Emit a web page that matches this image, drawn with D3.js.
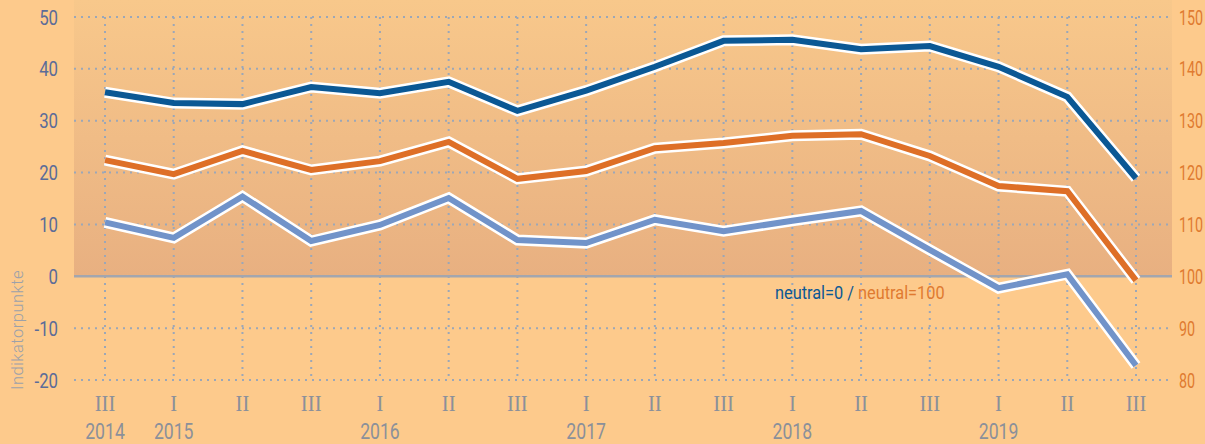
<!DOCTYPE html>
<html>
<head>
<meta charset="utf-8">
<script src="https://cdn.jsdelivr.net/npm/d3@7"></script>
<style>
  body { margin: 0; background: #fdca8c; }
  svg { display: block; }
</style>
</head>
<body>
<div id="chart"></div>
<script>
// data (Indikatorpunkte, tertials III/2014 .. III/2019)
const periods = ['III', 'I', 'II', 'III', 'I', 'II', 'III', 'I', 'II', 'III', 'I', 'II', 'III', 'I', 'II', 'III']
const yearLabels = ['2014', '2015', '', '', '2016', '', '', '2017', '', '', '2018', '', '', '2019', '', '']
const darkBlue = [35.5, 33.4, 33.2, 36.5, 35.3, 37.5, 31.9, 35.8, 40.4, 45.4, 45.6, 43.8, 44.4, 40.4, 34.6, 18.9]
const orange = [22.4, 19.7, 24.2, 20.5, 22.2, 25.9, 18.8, 20.3, 24.7, 25.7, 27.1, 27.4, 23.2, 17.4, 16.4, -0.8]
const lightBlue = [10.4, 7.4, 15.4, 6.8, 9.9, 15.1, 7.0, 6.4, 10.9, 8.7, 10.7, 12.6, 5.1, -2.3, 0.4, -17.2]
const leftTicks = [50, 40, 30, 20, 10, 0, -10, -20]

const width = 1205, height = 444
const plot = { left: 74, right: 1172 }
const narrowFont = 'Roboto, "Liberation Sans", sans-serif'
const squeeze = 0.8

const svg = d3.select('#chart').append('svg')
    .attr('width', width)
    .attr('height', height)

const x = d3.scaleLinear().domain([0, periods.length - 1]).range([105, 1136])
const y = d3.scaleLinear().domain([-20, 50]).range([380, 17])

// shaded positive area
const defs = svg.append('defs')
const grad = defs.append('linearGradient').attr('id', 'shade')
    .attr('x1', 0).attr('y1', 0).attr('x2', 0).attr('y2', 1)
grad.append('stop').attr('offset', '0%').attr('stop-color', '#f8c88b')
grad.append('stop').attr('offset', '100%').attr('stop-color', '#e8b081')

svg.append('rect')
    .attr('x', plot.left).attr('y', 0)
    .attr('width', plot.right - plot.left)
    .attr('height', y(0))
    .attr('fill', 'url(#shade)')

// grid
const grid = svg.append('g')
    .attr('stroke', '#9ba7b8')
    .attr('stroke-width', 2)
    .attr('stroke-dasharray', '2,5')

grid.selectAll('line.h')
    .data(leftTicks.filter(d => d !== 0))
    .join('line')
    .attr('x1', plot.left).attr('x2', plot.right - 3)
    .attr('y1', d => y(d)).attr('y2', d => y(d))

grid.selectAll('line.v')
    .data(periods.map((p, i) => i))
    .join('line')
    .attr('x1', d => x(d)).attr('x2', d => x(d))
    .attr('y1', y(50)).attr('y2', y(-20))

svg.append('line')
    .attr('x1', plot.left).attr('x2', plot.right)
    .attr('y1', y(0)).attr('y2', y(0))
    .attr('stroke', '#a3a6ae')
    .attr('stroke-width', 2.5)

// left axis labels
svg.append('g').selectAll('text')
    .data(leftTicks)
    .join('text')
    .attr('transform', d => `translate(58, ${y(d) + 7.5}) scale(${squeeze}, 1)`)
    .attr('text-anchor', 'end')
    .attr('font-family', narrowFont)
    .attr('font-size', 21)
    .attr('fill', '#5b6c99')
    .text(d => d)

// right axis labels (neutral = 100)
svg.append('g').selectAll('text')
    .data(leftTicks)
    .join('text')
    .attr('transform', d => `translate(1179, ${y(d) + 7.5}) scale(0.7, 1)`)
    .attr('font-family', narrowFont)
    .attr('font-size', 20.5)
    .attr('fill', '#e07a30')
    .text(d => d + 100)

svg.append('text')
    .attr('transform', `translate(23, 330) rotate(-90)`)
    .attr('text-anchor', 'middle')
    .attr('font-family', narrowFont)
    .attr('font-size', 16.5)
    .attr('font-weight', 300)
    .attr('letter-spacing', 0.5)
    .attr('fill', '#9ca1aa')
    .text('Indikatorpunkte')

// x labels
svg.append('g').selectAll('text')
    .data(periods)
    .join('text')
    .attr('transform', (d, i) => `translate(${x(i)}, 411) scale(0.9, 1)`)
    .attr('text-anchor', 'middle')
    .attr('font-family', '"Liberation Serif", serif')
    .attr('font-size', 23)
    .attr('fill', '#8b909a')
    .text(d => d)

svg.append('g').selectAll('text')
    .data(yearLabels)
    .join('text')
    .attr('transform', (d, i) => `translate(${x(i)}, 439) scale(${squeeze}, 1)`)
    .attr('text-anchor', 'middle')
    .attr('font-family', narrowFont)
    .attr('font-size', 22)
    .attr('fill', '#8b909a')
    .text(d => d)

// lines
const line = d3.line().x((d, i) => x(i)).y(d => y(d))
const series = [
    { values: lightBlue, color: '#7193c9' },
    { values: orange, color: '#de6f27' },
    { values: darkBlue, color: '#0b5894' }
]

const lines = svg.append('g')
series.forEach(s => {
    lines.append('path')
        .attr('d', line(s.values))
        .attr('fill', 'none')
        .attr('stroke', '#ffffff')
        .attr('stroke-width', 11)
        .attr('stroke-linejoin', 'miter')
    lines.append('path')
        .attr('d', line(s.values))
        .attr('fill', 'none')
        .attr('stroke', s.color)
        .attr('stroke-width', 6)
        .attr('stroke-linejoin', 'miter')
})

// legend note
const note = svg.append('text')
    .attr('transform', `translate(775, 299) scale(0.86, 1)`)
    .attr('font-family', narrowFont)
    .attr('font-size', 19)
note.append('tspan').attr('fill', '#0b5894').text('neutral=0 / ')
note.append('tspan').attr('fill', '#e07a30').text('neutral=100')
</script>
</body>
</html>
